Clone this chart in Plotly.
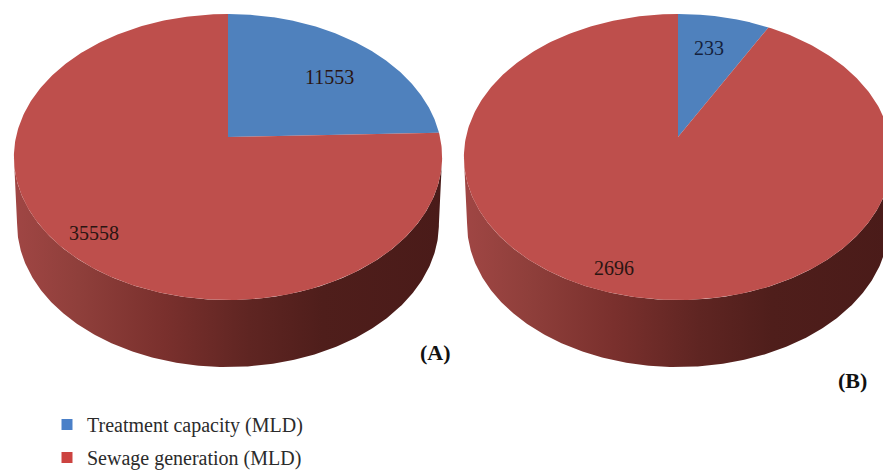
import numpy as np
import plotly.graph_objects as go

# Data
series_names = ["Treatment capacity (MLD)", "Sewage generation (MLD)"]
pie_a_values = [11553, 35558]
pie_b_values = [233, 2696]
pie_labels = ["(A)", "(B)"]
slice_colors = ["#4F81BD", "#BE4F4C"]

# Drawing geometry (perspective projection of a tilted cylinder)
CENTERS = [228, 678]
APEX_Y = 137
A, B, K = 212.0, 140.2, 0.14
DEPTH = 67
WALL_SCALE = 0.985


def project(theta, cx, scale=1.0, dy=0.0):
    w = 1 + K * np.cos(theta)
    return cx + scale * A * np.sin(theta) / w, APEX_Y + dy - B * np.cos(theta) / w


def wedge(cx, t0, t1):
    t = np.linspace(t0, t1, 361)
    x, y = project(t, cx)
    return np.r_[cx, x, cx], np.r_[APEX_Y, y, APEX_Y]


fig = go.Figure()
wall_scale = [[0, "#A04644"], [0.15, "#8F3F3B"], [0.35, "#7A302D"],
              [0.55, "#5F2522"], [0.72, "#4F1E1B"], [1, "#4A1B19"]]

for cx, values in zip(CENTERS, [pie_a_values, pie_b_values]):
    t0 = np.arccos(-K)
    t = np.linspace(t0, 2 * np.pi - t0, 300)
    xt, yt = project(t, cx)
    xb, yb = project(t[::-1], cx, WALL_SCALE, DEPTH)
    fig.add_trace(go.Scatter(
        x=np.r_[xt, xb], y=np.r_[yt, yb], mode="lines", fill="toself",
        line=dict(width=0), showlegend=False, hoverinfo="skip",
        fillgradient=dict(type="horizontal", colorscale=wall_scale,
                          start=cx - 214, stop=cx + 214)))
    frac = values[0] / sum(values)
    spans = [(0, 2 * np.pi * frac), (2 * np.pi * frac, 2 * np.pi)]
    for (a, b), col, name, v in zip(spans, slice_colors, series_names, values):
        x, y = wedge(cx, a, b)
        fig.add_trace(go.Scatter(
            x=x, y=y, mode="lines", fill="toself", fillcolor=col,
            line=dict(width=0, color=col), showlegend=False,
            name=name, text=str(v), hoverinfo="text+name"))

# Legend entries
for i, (name, col) in enumerate(zip(series_names, ["#4A80C8", "#CC4340"])):
    fig.add_trace(go.Scatter(
        x=[None], y=[None], mode="markers", name=name, legendgroup=str(i),
        marker=dict(symbol="square", size=11, color=col)))

label_font = dict(family="Liberation Serif", size=20, color="#2a1512")
annots = [
    (329, 77, str(pie_a_values[0]), label_font),
    (94, 233, str(pie_a_values[1]), label_font),
    (709, 48, str(pie_b_values[0]), dict(label_font, color="#14213d")),
    (614, 268, str(pie_b_values[1]), label_font),
    (435, 352, pie_labels[0], dict(family="Liberation Serif", size=22, color="#111111")),
    (852, 380, pie_labels[1], dict(family="Liberation Serif", size=22, color="#111111")),
]
for x, y, text, font in annots:
    if text.startswith("("):
        text = "<b>" + text + "</b>"
    fig.add_annotation(x=x, y=y, text=text, showarrow=False, font=font,
                       xanchor="center", yanchor="middle")

fig.update_layout(
    width=883, height=470, margin=dict(l=0, r=0, t=0, b=0, autoexpand=False),
    paper_bgcolor="white", plot_bgcolor="white",
    xaxis=dict(range=[0, 883], visible=False, fixedrange=True),
    yaxis=dict(range=[470, 0], visible=False, fixedrange=True),
    legend=dict(x=47 / 883, y=1 - 405 / 470, xanchor="left", yanchor="top",
                font=dict(family="Liberation Serif", size=20, color="#2b2b2b"),
                bgcolor="rgba(0,0,0,0)", tracegroupgap=4, itemclick=False,
                itemdoubleclick=False),
)
fig.write_html("out.html", config=dict(displayModeBar=False),
               post_script="document.body.style.margin='0';document.documentElement.style.overflow='hidden';")
